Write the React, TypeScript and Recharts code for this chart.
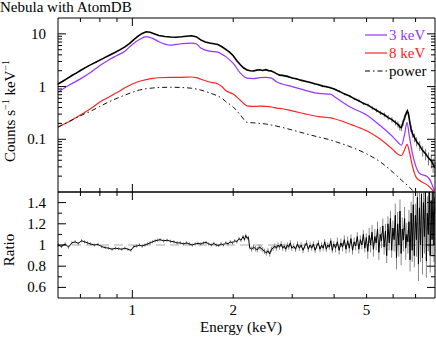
import React from 'react';
import { ComposedChart, Line, XAxis, YAxis, ErrorBar, ReferenceLine, Legend } from 'recharts';

const SERIF = '"Liberation Serif", "Times New Roman", Times, serif';
const PURPLE = '#9933ff';
const RED = '#ff2222';

// model grid (keV) and the three model components
const modelEnergy = [0.6, 0.65, 0.7, 0.75, 0.8, 0.85, 0.9, 0.95, 1.0, 1.05, 1.1, 1.15, 1.2, 1.3, 1.4, 1.5, 1.55, 1.6, 1.7, 1.8, 1.85, 1.9, 2.0, 2.1, 2.2, 2.3, 2.4, 2.5, 2.6, 2.7, 2.8, 3.0, 3.3, 3.6, 3.9, 4.0, 4.5, 5.0, 5.5, 6.0, 6.2, 6.35, 6.5, 6.6, 6.7, 6.85, 7.0, 7.2, 7.6, 7.8, 8.0];
const model3keV = [0.78, 1.08, 1.4, 1.85, 2.5, 3.2, 3.9, 4.7, 6.3, 7.8, 8.9, 8.2, 7.1, 6.1, 6.5, 6.7, 6.5, 5.4, 4.7, 4.5, 4.1, 3.7, 2.75, 1.8, 1.45, 1.42, 1.48, 1.5, 1.45, 1.22, 1.12, 1.0, 0.84, 0.74, 0.72, 0.65, 0.4, 0.29, 0.18, 0.11, 0.088, 0.077, 0.13, 0.21, 0.12, 0.054, 0.032, 0.0225, 0.0195, 0.015, 0.0095];
const model8keV = [0.17, 0.22, 0.29, 0.38, 0.51, 0.63, 0.77, 0.95, 1.12, 1.26, 1.36, 1.43, 1.47, 1.5, 1.5, 1.52, 1.48, 1.38, 1.22, 1.12, 1.0, 0.84, 0.72, 0.55, 0.43, 0.42, 0.425, 0.42, 0.41, 0.39, 0.38, 0.345, 0.3, 0.27, 0.255, 0.245, 0.19, 0.145, 0.1, 0.063, 0.052, 0.049, 0.065, 0.08, 0.06, 0.031, 0.02, 0.0165, 0.0135, 0.0115, 0.0095];
const modelPower = [0.17, 0.22, 0.28, 0.34, 0.42, 0.51, 0.6, 0.69, 0.78, 0.86, 0.91, 0.94, 0.96, 0.97, 0.96, 0.93, 0.9, 0.86, 0.76, 0.66, 0.6, 0.52, 0.41, 0.29, 0.21, 0.205, 0.2, 0.195, 0.186, 0.177, 0.168, 0.15, 0.127, 0.11, 0.097, 0.092, 0.071, 0.053, 0.037, 0.0235, 0.0195, 0.0168, 0.0148, 0.0136, 0.0124, 0.0108, 0.0094, 0.008, 0.006, 0.0052, 0.0045];

// observed spectrum
const dataEnergy = [
  0.6, 0.62, 0.64, 0.66, 0.68, 0.7, 0.72, 0.74, 0.76, 0.78,
  0.8, 0.83, 0.86, 0.89, 0.92, 0.95, 0.98, 1.01, 1.04, 1.07,
  1.1, 1.13, 1.16, 1.2, 1.25, 1.3, 1.35, 1.4, 1.45, 1.5,
  1.55, 1.6, 1.65, 1.7, 1.75, 1.8, 1.85, 1.9, 1.95, 2.0,
  2.05, 2.1, 2.15, 2.2, 2.25, 2.3, 2.35, 2.4, 2.45, 2.5,
  2.55, 2.6, 2.65, 2.7, 2.75, 2.8, 2.9, 3.0, 3.1, 3.2,
  3.3, 3.4, 3.5, 3.6, 3.7, 3.8, 3.9, 4.0, 4.15, 4.3,
  4.45, 4.6, 4.75, 4.9, 5.05, 5.2, 5.35, 5.5, 5.65, 5.8,
  5.95, 6.1, 6.2, 6.28, 6.35, 6.42, 6.5, 6.57, 6.62, 6.67,
  6.72, 6.78, 6.85, 6.95, 7.05, 7.2, 7.35, 7.5, 7.65, 7.8,
  7.9, 8.0,
];
const dataCounts = [
  1.12, 1.26, 1.43, 1.62, 1.8, 2.02, 2.24, 2.47, 2.7, 2.92,
  3.18, 3.58, 4.02, 4.48, 5.02, 5.68, 6.55, 7.75, 9.05, 10.2,
  10.95, 10.7, 10.05, 9.3, 8.9, 8.7, 8.65, 8.8, 9.0, 9.2,
  8.85, 7.7, 7.0, 6.7, 6.5, 6.3, 5.7, 5.1, 4.5, 3.85,
  3.1, 2.6, 2.25, 2.06, 1.99, 1.97, 2.05, 2.08, 2.02, 2.09,
  2.01, 1.97, 1.86, 1.74, 1.65, 1.63, 1.56, 1.46, 1.39, 1.31,
  1.25, 1.19, 1.13, 1.08, 1.02, 0.99, 0.95, 0.9, 0.81, 0.72,
  0.66, 0.585, 0.535, 0.475, 0.445, 0.395, 0.355, 0.318, 0.292, 0.258,
  0.236, 0.208, 0.192, 0.172, 0.166, 0.205, 0.262, 0.318, 0.342, 0.298,
  0.222, 0.162, 0.128, 0.108, 0.091, 0.076, 0.061, 0.053, 0.044, 0.039,
  0.033, 0.029,
];
const dataErr = [
  0.05, 0.05, 0.05, 0.06, 0.06, 0.06, 0.07, 0.07, 0.07, 0.08,
  0.08, 0.09, 0.09, 0.1, 0.1, 0.11, 0.12, 0.13, 0.14, 0.15,
  0.15, 0.15, 0.15, 0.14, 0.13, 0.13, 0.13, 0.13, 0.13, 0.13,
  0.13, 0.12, 0.12, 0.11, 0.11, 0.11, 0.1, 0.1, 0.09, 0.08,
  0.07, 0.06, 0.06, 0.05, 0.05, 0.05, 0.05, 0.05, 0.05, 0.05,
  0.05, 0.05, 0.05, 0.05, 0.05, 0.05, 0.05, 0.05, 0.05, 0.05,
  0.04, 0.04, 0.04, 0.04, 0.04, 0.04, 0.04, 0.04, 0.035, 0.035,
  0.035, 0.03, 0.03, 0.03, 0.03, 0.03, 0.03, 0.03, 0.03, 0.028,
  0.028, 0.026, 0.026, 0.024, 0.024, 0.026, 0.03, 0.034, 0.035, 0.032,
  0.028, 0.024, 0.022, 0.02, 0.018, 0.016, 0.014, 0.013, 0.012, 0.011,
  0.01, 0.009,
];

// data / model ratio
const ratioEnergy = [
  0.6, 0.615, 0.63, 0.645, 0.66, 0.675, 0.69, 0.705, 0.72, 0.735,
  0.75, 0.77, 0.79, 0.81, 0.83, 0.85, 0.87, 0.89, 0.91, 0.93,
  0.95, 0.97, 0.99, 1.01, 1.03, 1.05, 1.07, 1.09, 1.11, 1.13,
  1.15, 1.17, 1.19, 1.21, 1.24, 1.27, 1.3, 1.33, 1.36, 1.39,
  1.42, 1.45, 1.48, 1.51, 1.54, 1.57, 1.6, 1.63, 1.66, 1.69,
  1.72, 1.75, 1.78, 1.81, 1.84, 1.87, 1.9, 1.93, 1.96, 1.99,
  2.02, 2.05, 2.08, 2.11, 2.14, 2.16, 2.18, 2.2, 2.22, 2.24,
  2.27, 2.3, 2.33, 2.36, 2.39, 2.42, 2.45, 2.48, 2.51, 2.54,
  2.57, 2.6, 2.63, 2.66, 2.69, 2.72, 2.75, 2.78, 2.81, 2.84,
  2.87, 2.9, 2.93, 2.96, 2.99, 3.03, 3.07, 3.11, 3.15, 3.19,
  3.23, 3.27, 3.31, 3.35, 3.39, 3.43, 3.47, 3.51, 3.55, 3.59,
  3.63, 3.67, 3.71, 3.75, 3.79, 3.83, 3.87, 3.91, 3.95, 3.99,
  4.04, 4.09, 4.14, 4.19, 4.24, 4.29, 4.34, 4.39, 4.44, 4.49,
  4.54, 4.59, 4.64, 4.69, 4.74, 4.79, 4.84, 4.89, 4.94, 4.99,
  5.04, 5.09, 5.14, 5.19, 5.24, 5.29, 5.34, 5.39, 5.44, 5.49,
  5.54, 5.59, 5.64, 5.69, 5.74, 5.79, 5.84, 5.89, 5.94, 5.99,
  6.04, 6.09, 6.14, 6.19, 6.24, 6.29, 6.34, 6.39, 6.44, 6.49,
  6.54, 6.59, 6.64, 6.69, 6.74, 6.79, 6.84, 6.89, 6.94, 6.99,
  7.04, 7.09, 7.14, 7.19, 7.24, 7.29, 7.34, 7.39, 7.44, 7.49,
  7.54, 7.59, 7.64, 7.69, 7.74, 7.79, 7.84, 7.89, 7.94, 7.99,
];
const ratioValue = [
  1.0, 0.985, 1.01, 0.98, 1.02, 1.03, 1.015, 1.04, 1.03, 1.02,
  1.01, 1.0, 1.005, 0.985, 0.975, 0.97, 0.96, 0.97, 0.965, 0.96,
  0.97, 0.96, 0.95, 0.985, 0.99, 1.0, 0.99, 1.0, 1.01, 1.02,
  1.03, 1.04, 1.045, 1.05, 1.04, 1.045, 1.035, 1.03, 1.02, 1.02,
  1.01, 1.02, 1.01, 1.0, 1.01, 1.015, 1.01, 1.02, 1.025, 1.01,
  1.0, 1.015, 1.0, 0.995, 1.01, 1.0, 1.02, 1.01, 1.03, 1.02,
  1.04, 1.03, 1.06, 1.045, 1.08, 1.05, 1.09, 1.065, 1.07, 0.975,
  0.96, 0.98, 0.965, 0.955, 0.98, 0.97, 0.955, 0.94, 0.925, 0.945,
  0.915, 0.96, 0.97, 0.99, 0.97, 1.0, 0.98, 1.01, 0.97, 0.99,
  0.96, 1.0, 0.98, 1.02, 0.97, 0.99, 0.96, 1.01, 0.97, 1.0,
  0.95, 0.99, 1.02, 0.96, 1.0, 0.97, 1.01, 0.95, 0.99, 1.02,
  0.96, 1.0, 0.97, 1.03, 0.96, 1.0, 0.98, 1.04, 0.95, 1.01,
  0.97, 1.03, 0.95, 1.02, 0.98, 1.05, 0.96, 1.04, 0.97, 1.06,
  0.95, 1.03, 0.99, 1.08, 0.96, 1.05, 1.0, 1.1, 0.97, 1.07,
  0.94, 1.09, 1.0, 1.12, 0.96, 1.08, 1.02, 1.15, 0.93, 1.1,
  1.04, 1.18, 0.98, 1.13, 0.9, 1.2, 1.02, 1.25, 0.95, 1.16,
  1.05, 1.28, 0.88, 1.2, 1.0, 1.32, 0.92, 1.15, 1.05, 1.25,
  0.97, 1.1, 1.03, 1.22, 0.86, 1.3, 0.95, 1.38, 0.9, 1.28,
  1.05, 1.45, 0.82, 1.35, 1.0, 1.48, 0.88, 1.4, 1.08, 1.52,
  0.85, 1.3, 1.1, 1.55, 0.9, 1.42, 1.05, 1.55, 1.0, 1.45,
];
const ratioErr = [
  0.015, 0.015, 0.015, 0.015, 0.015, 0.015, 0.015, 0.015, 0.015, 0.015,
  0.015, 0.015, 0.015, 0.015, 0.015, 0.015, 0.015, 0.015, 0.015, 0.015,
  0.015, 0.015, 0.015, 0.015, 0.015, 0.015, 0.015, 0.015, 0.015, 0.015,
  0.015, 0.015, 0.015, 0.015, 0.015, 0.015, 0.015, 0.015, 0.015, 0.015,
  0.015, 0.015, 0.015, 0.015, 0.015, 0.015, 0.015, 0.015, 0.015, 0.015,
  0.015, 0.015, 0.015, 0.015, 0.015, 0.015, 0.015, 0.015, 0.015, 0.015,
  0.015, 0.015, 0.015, 0.015, 0.015, 0.015, 0.015, 0.015, 0.015, 0.015,
  0.025, 0.025, 0.025, 0.025, 0.025, 0.025, 0.025, 0.025, 0.025, 0.025,
  0.025, 0.025, 0.025, 0.025, 0.025, 0.025, 0.025, 0.025, 0.025, 0.025,
  0.025, 0.025, 0.025, 0.025, 0.025, 0.025, 0.025, 0.025, 0.025, 0.025,
  0.025, 0.025, 0.025, 0.025, 0.025, 0.025, 0.025, 0.025, 0.025, 0.025,
  0.025, 0.025, 0.025, 0.025, 0.025, 0.025, 0.025, 0.025, 0.025, 0.025,
  0.04, 0.04, 0.04, 0.04, 0.04, 0.04, 0.04, 0.04, 0.04, 0.04,
  0.04, 0.04, 0.04, 0.04, 0.04, 0.04, 0.04, 0.04, 0.04, 0.04,
  0.07, 0.07, 0.07, 0.07, 0.07, 0.07, 0.07, 0.07, 0.07, 0.07,
  0.07, 0.07, 0.07, 0.07, 0.07, 0.07, 0.07, 0.07, 0.07, 0.07,
  0.11, 0.11, 0.11, 0.11, 0.11, 0.11, 0.11, 0.11, 0.11, 0.11,
  0.11, 0.11, 0.11, 0.11, 0.11, 0.11, 0.11, 0.11, 0.11, 0.11,
  0.16, 0.16, 0.16, 0.16, 0.16, 0.16, 0.16, 0.16, 0.16, 0.16,
  0.16, 0.16, 0.16, 0.16, 0.16, 0.16, 0.16, 0.16, 0.16, 0.16,
];

// axis ticks
const X_TICKS = [0.7, 0.8, 0.9, 1, 2, 3, 4, 5, 6, 7];
const X_MAJOR = [1];
const X_LABELS = [1, 2, 5];
const Y_TICKS_TOP = [0.02, 0.03, 0.04, 0.05, 0.06, 0.07, 0.08, 0.09, 0.1, 0.2, 0.3, 0.4, 0.5, 0.6, 0.7, 0.8, 0.9, 1, 2, 3, 4, 5, 6, 7, 8, 9, 10];
const Y_MAJOR_TOP = [0.1, 1, 10];
const Y_TICKS_RATIO = [0.6, 0.7, 0.8, 0.9, 1, 1.1, 1.2, 1.3, 1.4];
const Y_LABELS_RATIO = [0.6, 0.8, 1, 1.2, 1.4];

const modelRows = modelEnergy.map((e, i) => ({ e, hot3: model3keV[i], hot8: model8keV[i], pow: modelPower[i] }));
const dataRows = dataEnergy.map((e, i) => ({ e, counts: dataCounts[i], err: dataErr[i] }));
const ratioRows = ratioEnergy.map((e, i) => ({ e, ratio: ratioValue[i], err: ratioErr[i] }));

function XTick(props: any) {
  const { x, y, payload, side, labels } = props;
  const v = payload.value;
  const len = X_MAJOR.includes(v) ? 8 : 4;
  const dir = side === 'bottom' ? -1 : 1;
  return (
    <g>
      <line x1={x} x2={x} y1={y} y2={y + dir * len} stroke="#000" strokeWidth={1} />
      {labels && labels.includes(v) && (
        <text x={x} y={y + 17} textAnchor="middle" fontFamily={SERIF} fontSize={15} fill="#000">{v}</text>
      )}
    </g>
  );
}

function YTick(props: any) {
  const { x, y, payload, side, majors, labels } = props;
  const v = payload.value;
  const len = majors.includes(v) ? 8 : 4;
  const dir = side === 'left' ? 1 : -1;
  return (
    <g>
      <line x1={x} x2={x + dir * len} y1={y} y2={y} stroke="#000" strokeWidth={1} />
      {side === 'left' && labels.includes(v) && (
        <text x={x - 12} y={y + 5} textAnchor="end" fontFamily={SERIF} fontSize={15} fill="#000">{v}</text>
      )}
    </g>
  );
}

const CountsLabel = () => (
  <text transform="translate(15, 111) rotate(-90)" textAnchor="middle" fontFamily={SERIF} fontSize={15} fill="#000">
    Counts s<tspan dy={-6} fontSize={10}>−1</tspan>
    <tspan dy={6}> keV</tspan>
    <tspan dy={-6} fontSize={10}>−1</tspan>
  </text>
);

const RatioLabel = () => (
  <text transform="translate(14, 59) rotate(-90)" textAnchor="middle" fontFamily={SERIF} fontSize={15} fill="#000">
    Ratio
  </text>
);

const EnergyLabel = () => (
  <text x={241} y={141} textAnchor="middle" fontFamily={SERIF} fontSize={15} fill="#000">
    Energy (keV)
  </text>
);

const legendItems = [
  { name: '3 keV', color: PURPLE, dash: undefined },
  { name: '8 keV', color: RED, dash: undefined },
  { name: 'power', color: '#000', dash: '5 3 1.5 3' },
];

// drawn as svg so the serif font is used for sure
const LegendBox = () => (
  <svg width={70} height={54}>
    {legendItems.map((item, i) => (
      <g key={item.name}>
        <line x1={0} x2={22} y1={9 + i * 18} y2={9 + i * 18} stroke={item.color} strokeWidth={1.2} strokeDasharray={item.dash} />
        <text x={24} y={14 + i * 18} fontFamily={SERIF} fontSize={15} fill={item.color}>{item.name}</text>
      </g>
    ))}
  </svg>
);

export default function App() {
  const xCommon = {
    type: 'number' as const,
    dataKey: 'e',
    scale: 'log' as const,
    domain: [0.6, 8],
    allowDataOverflow: true,
    ticks: X_TICKS,
    interval: 0 as const,
    tickSize: 0,
    tickMargin: 0,
    tickLine: false,
    axisLine: { stroke: '#000', strokeWidth: 1 },
  };

  return (
    <div style={{ position: 'absolute', left: 0, top: 0, width: 436, height: 337, background: '#fff' }}>
      <div style={{ position: 'absolute', left: 0, top: -1, fontFamily: SERIF, fontSize: 15, lineHeight: '17px', color: '#000' }}>
        Nebula with AtomDB
      </div>

      <div style={{ position: 'absolute', left: 0, top: 0 }}>
        <ComposedChart width={436} height={193} margin={{ top: 0, right: 0, bottom: 0, left: 0 }}>
          <XAxis {...xCommon} xAxisId="b" orientation="bottom" height={1} tick={(p: any) => <XTick {...p} side="bottom" />} />
          <XAxis {...xCommon} xAxisId="t" orientation="top" height={18} tick={(p: any) => <XTick {...p} side="top" />} />
          <YAxis
            yAxisId="l"
            type="number"
            scale="log"
            domain={[0.01, 20]}
            allowDataOverflow
            ticks={Y_TICKS_TOP}
            interval={0}
            width={58}
            tickSize={0}
            tickMargin={0}
            tickLine={false}
            axisLine={{ stroke: '#000', strokeWidth: 1 }}
            tick={(p: any) => <YTick {...p} side="left" majors={Y_MAJOR_TOP} labels={Y_MAJOR_TOP} />}
            label={<CountsLabel />}
          />
          <YAxis
            yAxisId="r"
            orientation="right"
            type="number"
            scale="log"
            domain={[0.01, 20]}
            allowDataOverflow
            ticks={Y_TICKS_TOP}
            interval={0}
            width={1}
            tickSize={0}
            tickMargin={0}
            tickLine={false}
            axisLine={{ stroke: '#000', strokeWidth: 1 }}
            tick={(p: any) => <YTick {...p} side="right" majors={Y_MAJOR_TOP} labels={[]} />}
          />
          <Legend
            layout="vertical"
            align="center"
            verticalAlign="middle"
            content={() => <LegendBox />}
            wrapperStyle={{ left: 365, top: 26, width: 70 }}
          />
          <Line data={dataRows} xAxisId="b" yAxisId="l" type="linear" dataKey="counts" stroke="#000" strokeWidth={1.6} dot={false} isAnimationActive={false}>
            <ErrorBar dataKey="err" direction="y" width={0} stroke="#777" strokeWidth={1} />
          </Line>
          <Line data={modelRows} xAxisId="b" yAxisId="l" type="monotone" dataKey="hot3" stroke={PURPLE} strokeWidth={1.2} dot={false} isAnimationActive={false} />
          <Line data={modelRows} xAxisId="b" yAxisId="l" type="monotone" dataKey="hot8" stroke={RED} strokeWidth={1.2} dot={false} isAnimationActive={false} />
          <Line data={modelRows} xAxisId="b" yAxisId="l" type="monotone" dataKey="pow" stroke="#111" strokeWidth={1} strokeDasharray="5 3 1.5 3" dot={false} isAnimationActive={false} />
        </ComposedChart>
      </div>

      <div style={{ position: 'absolute', left: 0, top: 191 }}>
        <ComposedChart width={436} height={146} margin={{ top: 0, right: 0, bottom: 0, left: 0 }}>
          <XAxis {...xCommon} xAxisId="b" orientation="bottom" height={39} tick={(p: any) => <XTick {...p} side="bottom" labels={X_LABELS} />} label={<EnergyLabel />} />
          <XAxis {...xCommon} xAxisId="t" orientation="top" height={1} tick={(p: any) => <XTick {...p} side="top" />} />
          <YAxis
            yAxisId="l"
            type="number"
            domain={[0.5, 1.5]}
            allowDataOverflow
            ticks={Y_TICKS_RATIO}
            interval={0}
            width={58}
            tickSize={0}
            tickMargin={0}
            tickLine={false}
            axisLine={{ stroke: '#000', strokeWidth: 1 }}
            tick={(p: any) => <YTick {...p} side="left" majors={Y_LABELS_RATIO} labels={Y_LABELS_RATIO} />}
            label={<RatioLabel />}
          />
          <YAxis
            yAxisId="r"
            orientation="right"
            type="number"
            domain={[0.5, 1.5]}
            allowDataOverflow
            ticks={Y_TICKS_RATIO}
            interval={0}
            width={1}
            tickSize={0}
            tickMargin={0}
            tickLine={false}
            axisLine={{ stroke: '#000', strokeWidth: 1 }}
            tick={(p: any) => <YTick {...p} side="right" majors={Y_LABELS_RATIO} labels={[]} />}
          />
          <ReferenceLine xAxisId="b" yAxisId="l" y={1} stroke="#c8c8c8" strokeWidth={1.5} strokeDasharray="9 5" />
          <Line data={ratioRows} xAxisId="b" yAxisId="l" type="linear" dataKey="ratio" stroke="#000" strokeWidth={1} dot={false} isAnimationActive={false}>
            <ErrorBar dataKey="err" direction="y" width={0} stroke="#888" strokeWidth={1} />
          </Line>
        </ComposedChart>
      </div>
    </div>
  );
}
